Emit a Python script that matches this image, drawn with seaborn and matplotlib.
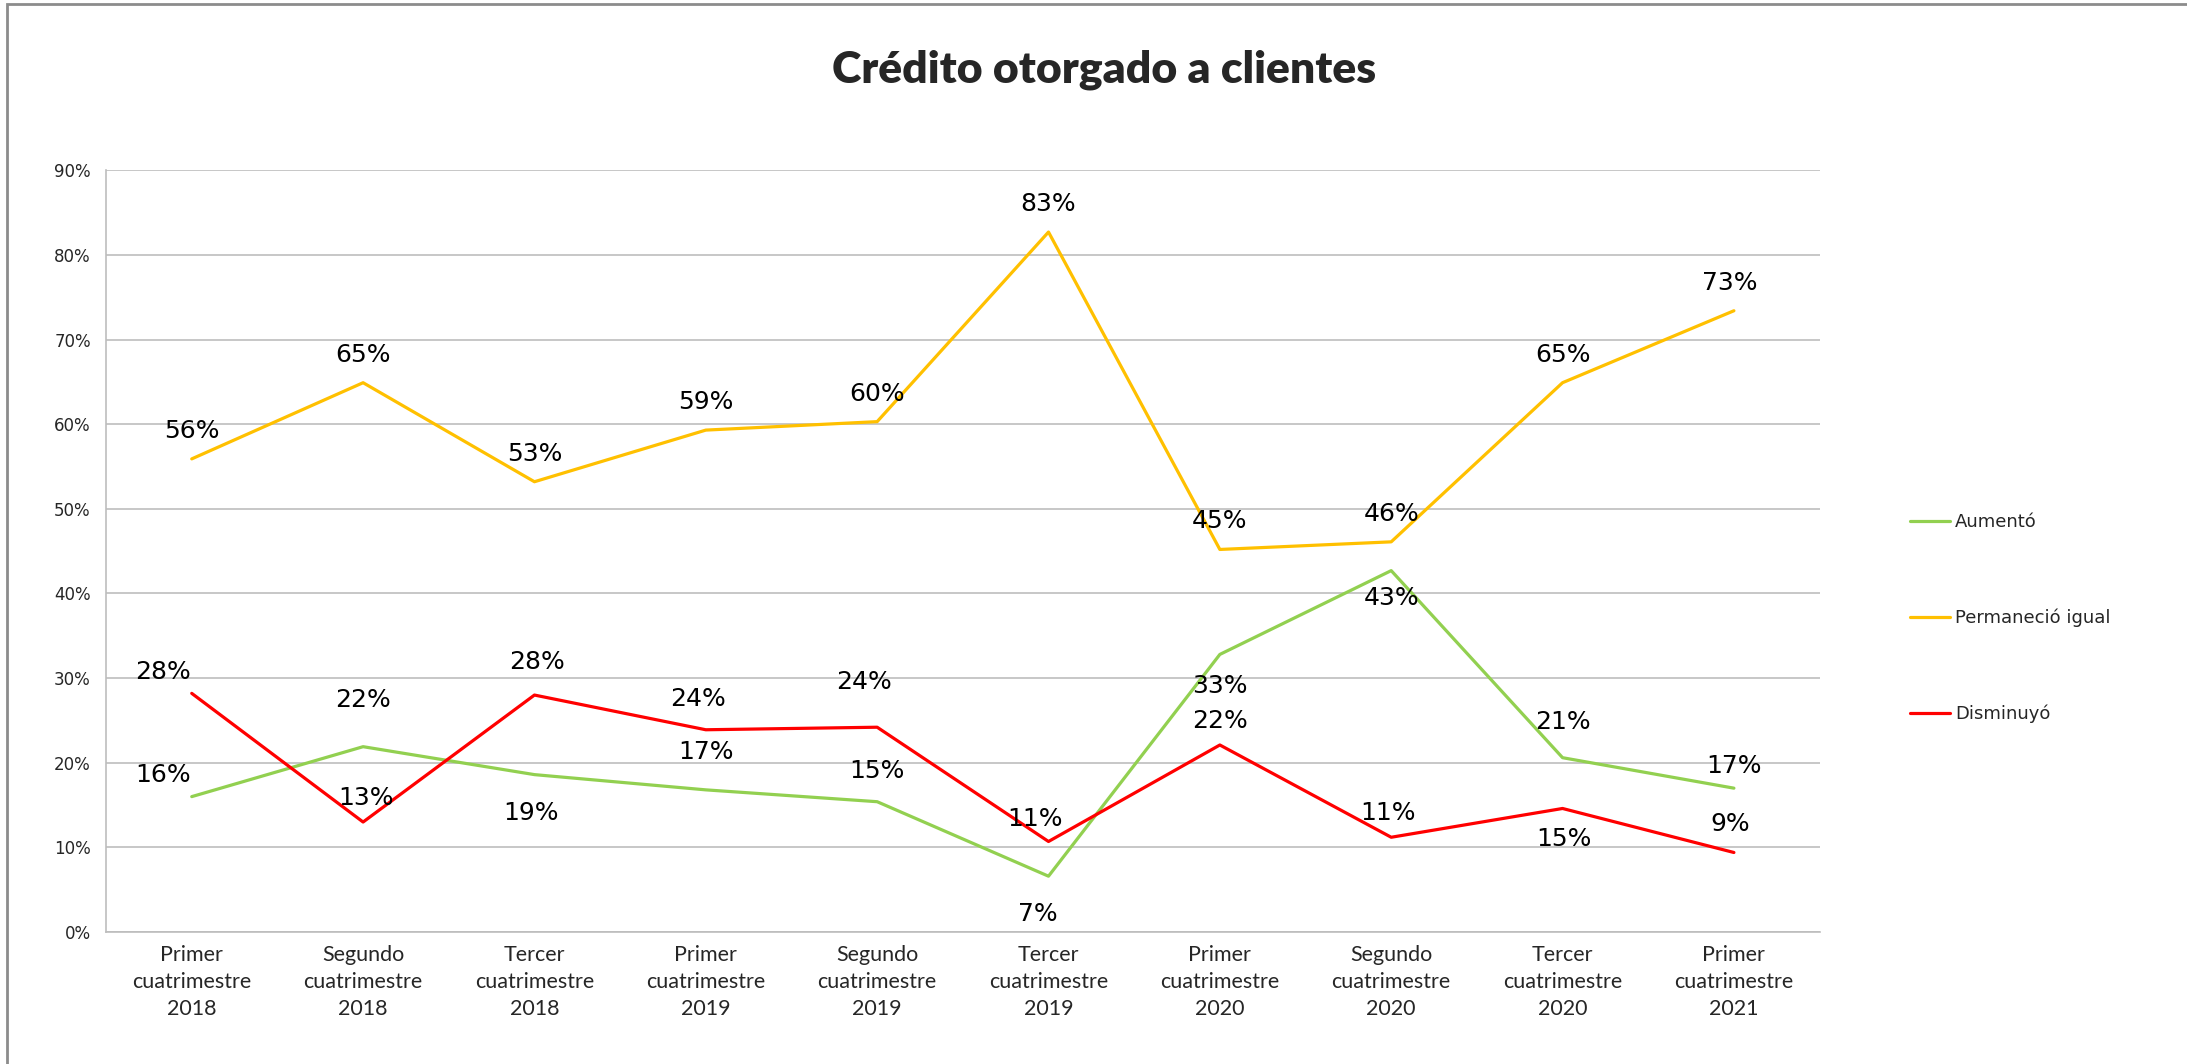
import pandas as pd
import seaborn as sns
import matplotlib.pyplot as plt
from matplotlib.patches import Rectangle
from matplotlib.lines import Line2D

# datos
periodos = ['Primer\ncuatrimestre\n2018', 'Segundo\ncuatrimestre\n2018', 'Tercer\ncuatrimestre\n2018',
            'Primer\ncuatrimestre\n2019', 'Segundo\ncuatrimestre\n2019', 'Tercer\ncuatrimestre\n2019',
            'Primer\ncuatrimestre\n2020', 'Segundo\ncuatrimestre\n2020', 'Tercer\ncuatrimestre\n2020',
            'Primer\ncuatrimestre\n2021']
aumento = [0.16, 0.219, 0.186, 0.168, 0.154, 0.066, 0.328, 0.427, 0.206, 0.17]
permanecio = [0.559, 0.649, 0.532, 0.593, 0.603, 0.827, 0.452, 0.461, 0.649, 0.734]
disminuyo = [0.282, 0.130, 0.280, 0.239, 0.242, 0.107, 0.221, 0.112, 0.146, 0.094]
series = ['Aumentó', 'Permaneció igual', 'Disminuyó']
colores = ['#92D050', '#FFC000', '#FF0000']

# desplazamiento de etiquetas (pixeles)
off_aum = [(-29, 22), (0, 47), (-3, -38), (0, 38), (0, 31), (-11, -38), (0, -32), (0, -27), (0, 36), (0, 22)]
off_per = [(0, 28)] * 9 + [(-4, 28)]
off_dis = [(-29, 21), (3, 24), (3, 33), (-8, 31), (-13, 45), (-14, 22), (0, 24), (-3, 24), (1, -31), (-4, 28)]

df = pd.DataFrame({
    'x': list(range(len(periodos))) * 3,
    'valor': aumento + permanecio + disminuyo,
    'serie': [s for s in series for _ in periodos],
})

sns.set_style('white')
plt.rcParams['font.family'] = ['DejaVu Sans']

fig = plt.figure(figsize=(21.87, 10.64), dpi=100)
ax = fig.add_axes([0.0485, 0.124, 0.7835, 0.716])

sns.lineplot(data=df, x='x', y='valor', hue='serie', hue_order=series, palette=colores,
             linewidth=2.3, ax=ax, legend=False)

# etiquetas de datos
for vals, offs in zip([aumento, permanecio, disminuyo], [off_aum, off_per, off_dis]):
    for i, (v, o) in enumerate(zip(vals, offs)):
        ax.annotate(f'{v:.0%}', (i, v), xytext=o, textcoords='offset pixels',
                    ha='center', va='center', fontsize=18, color='black')

ax.set_xlim(-0.5, 9.5)
ax.set_ylim(0, 0.9)
ax.set_yticks([i / 10 for i in range(10)])
ax.set_yticklabels([f'{i * 10}%' for i in range(10)], fontsize=12)
ax.set_xticks(range(len(periodos)))
ax.set_xticklabels(periodos, fontsize=15.5, family='Lato', linespacing=1.45)
ax.tick_params(axis='both', length=0)
ax.tick_params(axis='y', pad=11)
ax.tick_params(axis='x', pad=9)
ax.set_xlabel('')
ax.set_ylabel('')
ax.yaxis.grid(True, color='#BDBDBD', linewidth=1.2)
ax.set_axisbelow(True)
for lado in ['top', 'right']:
    ax.spines[lado].set_visible(False)
for lado in ['left', 'bottom']:
    ax.spines[lado].set_color('#BDBDBD')
    ax.spines[lado].set_linewidth(1.2)

# leyenda
handles = [Line2D([0], [0], color=c, linewidth=2.3) for c in colores]
fig.legend(handles, series, loc='center left', bbox_to_anchor=(0.866, 0.419), frameon=False,
           fontsize=13, labelspacing=4.3, handlelength=2.2, handletextpad=0.3)

fig.text(0.505, 0.934, 'Crédito otorgado a clientes', ha='center', va='center',
         fontsize=32, fontweight='heavy', family='Lato')

# borde del grafico
fig.patches.append(Rectangle((0.0032, -0.1), 1.2, 1.0962, transform=fig.transFigure,
                             fill=False, edgecolor='#8C8C8C', linewidth=2))

plt.savefig('out.png', dpi=100)
